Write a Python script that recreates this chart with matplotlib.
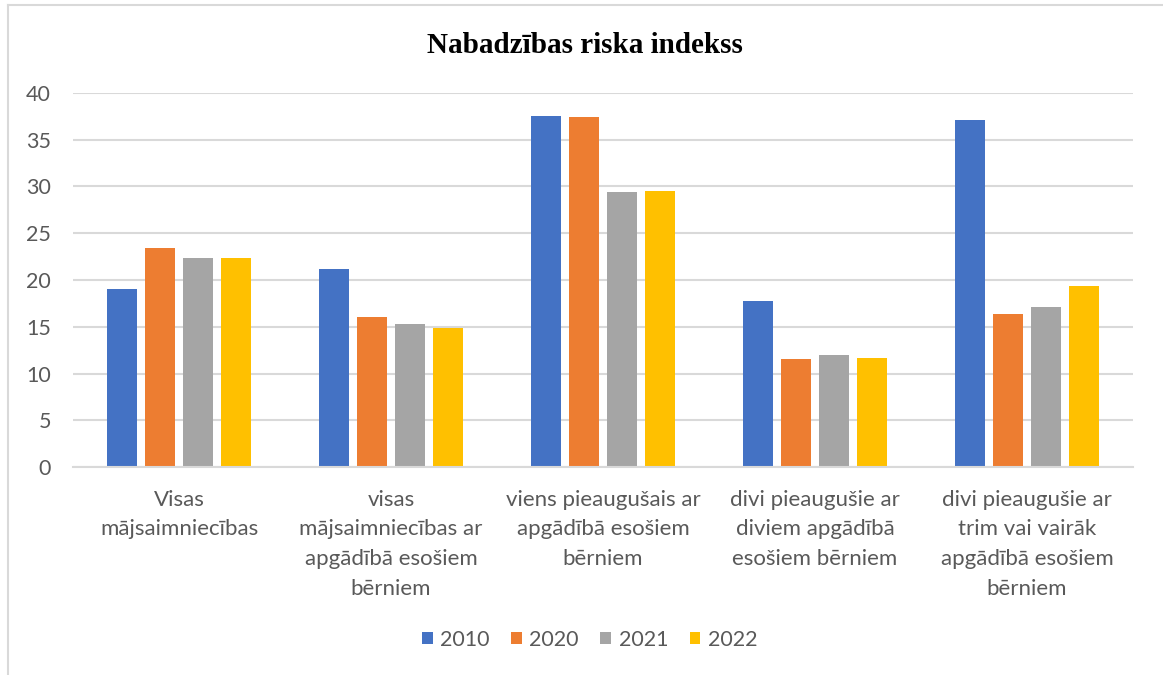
import numpy as np
import matplotlib.pyplot as plt
from matplotlib.lines import Line2D

categories = [
    "Visas\nmājsaimniecības",
    "visas\nmājsaimniecības ar\napgādībā esošiem\nbērniem",
    "viens pieaugušais ar\napgādībā esošiem\nbērniem",
    "divi pieaugušie ar\ndiviem apgādībā\nesošiem bērniem",
    "divi pieaugušie ar\ntrim vai vairāk\napgādībā esošiem\nbērniem",
]
years = ["2010", "2020", "2021", "2022"]
v2010 = [19.0, 21.2, 37.5, 17.8, 37.1]
v2020 = [23.4, 16.0, 37.4, 11.6, 16.4]
v2021 = [22.4, 15.3, 29.4, 12.0, 17.1]
v2022 = [22.3, 14.9, 29.5, 11.7, 19.4]
colors = ["#4472C4", "#ED7D31", "#A5A5A5", "#FFC000"]

series = [v2010, v2020, v2021, v2022]
text_col = "#595959"
grid_col = "#d9d9d9"

fig = plt.figure(figsize=(11.63, 6.75), dpi=100)
ax = fig.add_axes([0.0628, 0.3077, 0.9114, 0.555])

x = np.arange(len(categories))
w = 0.141
step = 0.1805
for i, (vals, c, lab) in enumerate(zip(series, colors, years)):
    ax.bar(x + (i - 1.5) * step, vals, width=w, color=c, label=lab, zorder=3)

ax.set_xlim(-0.5, 4.5)
ax.set_ylim(0, 40)
ax.set_yticks(range(0, 41, 5))
ax.yaxis.grid(True, color=grid_col, linewidth=1.5, zorder=0)
for s in ["top", "right", "left"]:
    ax.spines[s].set_visible(False)
ax.spines["bottom"].set_color(grid_col)
ax.spines["bottom"].set_linewidth(1.5)
ax.spines["bottom"].set_zorder(4)

ax.set_xticks(x)
ax.set_xticklabels(categories, fontsize=16, color=text_col, family="Lato",
                   linespacing=1.62)
ax.tick_params(axis="x", length=0, pad=16)
ax.tick_params(axis="y", length=0, pad=16, labelsize=15.5, labelcolor=text_col)
for t in ax.get_yticklabels():
    t.set_family("Lato")

fig.text(0.503, 0.932, "Nabadzības riska indekss", ha="center", va="center",
         fontsize=21, fontweight="bold", family="Liberation Serif", color="#000000")

leg = fig.legend(loc="center", bbox_to_anchor=(0.507, 0.052), ncol=4, frameon=False,
                 handlelength=0.5, handleheight=0.5, handletextpad=0.35,
                 columnspacing=1.0, prop={"family": "Lato", "size": 15.5})
for t in leg.get_texts():
    t.set_color(text_col)

# light frame around the chart (left and top edges visible)
fig.add_artist(Line2D([8 / 1163, 8 / 1163], [0, 1 - 5 / 675], color=grid_col, lw=1.5))
fig.add_artist(Line2D([8 / 1163, 1], [1 - 5 / 675, 1 - 5 / 675], color=grid_col, lw=1.5))

fig.savefig("out.png", dpi=100, facecolor="white")
